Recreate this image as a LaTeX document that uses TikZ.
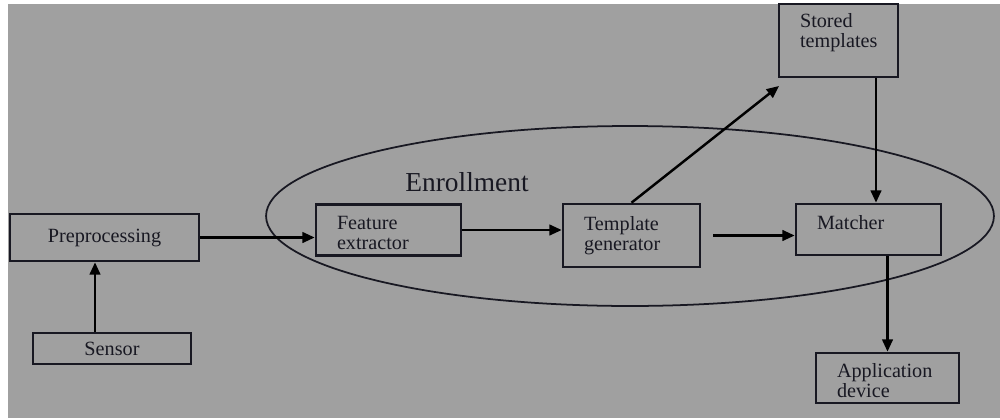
\documentclass[tikz,border=0pt]{standalone}
\usepackage{fontspec}
\setmainfont{Liberation Serif}
\usepackage{tikz}
\usetikzlibrary{arrows.meta, positioning, calc}
\definecolor{PanelGray}{HTML}{A0A0A0}
\definecolor{InkDark}{HTML}{181822}
\newcommand{\toppad}{\rule{0pt}{11pt}}

\begin{document}
\begin{tikzpicture}[x=0.02cm, y=-0.02cm,
    box/.style={draw=InkDark, line width=1.5pt, align=left, inner xsep=0pt, inner ysep=0pt, font=\fontsize{11.5}{11.5}\selectfont, text=InkDark},
    arr/.style={-{Triangle[length=7pt, width=6pt]}, line width=1.4pt, color=black}]
    % page and grey panel
    \useasboundingbox (0,0) rectangle (1000,419);
    \fill[white] (0,0) rectangle (1000,419);
    \fill[PanelGray] (8,4) rectangle (1000,418);
    % enrollment region
    \draw[line width=1pt, color=InkDark] (630,216) ellipse [x radius=7.28cm, y radius=1.8cm];
    \node[font=\fontsize{15.6}{15.6}\selectfont, text=InkDark] (enr) at (467,182) {Enrollment};
    % blocks
    \node[box, minimum width=3.78cm, minimum height=0.94cm, align=center, text width=3.78cm] (prep) at (104.5,237.5) {Preprocessing\\[3pt]};
    \node[box, minimum width=3.16cm, minimum height=0.62cm, align=center, text width=3.16cm] (sens) at (112,348.5) {Sensor};
    \node[box, minimum width=2.9cm, minimum height=1.02cm, text width=2.06cm] (fe) at (388.5,230) {\toppad Feature\\extractor};
    \node[box, minimum width=2.74cm, minimum height=1.26cm, text width=1.9cm] (tg) at (631.5,235.5) {Template\\generator};
    \node[box, minimum width=2.9cm, minimum height=1.02cm, text width=2.06cm] (mat) at (868.5,229.5) {\toppad Matcher\\\mbox{}};
    \node[box, minimum width=2.38cm, minimum height=1.46cm, text width=1.54cm] (st) at (838.5,40.5) {Stored\\templates\\\mbox{}};
    \node[box, minimum width=2.86cm, minimum height=1.0cm, text width=2.02cm] (ad) at (887.5,378) {\toppad Application\\device};
    \coordinate (sttip) at (779,86);
    % connectors
    \draw[arr] ([xshift=-0.34cm]sens.north) -- ([xshift=-0.34cm]sens.north |- prep.south);
    \draw[arr] (prep.east) -- (fe.west |- prep.east);
    \draw[arr] (fe.east) -- (fe.east -| tg.west);
    \draw[arr] ([xshift=0.24cm]tg.east) -- (tg.east -| mat.west);
    \draw[arr] (tg.north) -- (sttip);
    \draw[arr] ([xshift=0.75cm]st.south) -- ([xshift=0.75cm]st.south |- mat.north);
    \draw[arr] (ad.north |- mat.south) -- (ad.north);
\end{tikzpicture}
\end{document}
